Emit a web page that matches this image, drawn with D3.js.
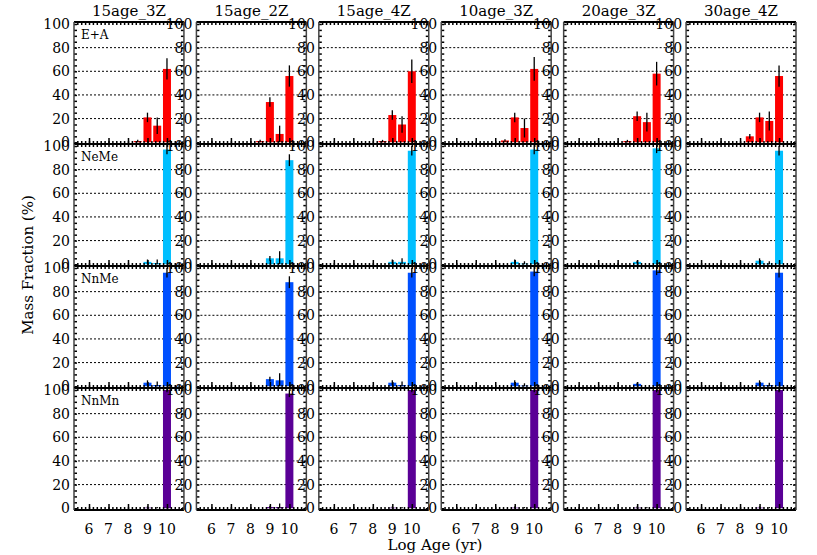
<!DOCTYPE html>
<html><head><meta charset="utf-8">
<script src="https://cdn.jsdelivr.net/npm/d3@7"></script>
<style>body{margin:0;background:#fff}text{font-family:"DejaVu Serif",serif;fill:#000}</style>
</head><body><svg id="chart" width="817" height="555"></svg>
<script>
const models = ["15age_3Z", "15age_2Z", "15age_4Z", "10age_3Z", "20age_3Z", "30age_4Z"];
const classes = ["E+A", "NeMe", "NnMe", "NnMn"];
const colors = ["#ff0000", "#00bfff", "#0050ff", "#5a0096"];
const ages = [6, 6.5, 7, 7.5, 8, 8.5, 9, 9.5, 10];
// values[class][model] -> fraction per age; errs same shape
const values = [
  [[0,0,0,0,0,1,21,14,62],[0,0,0,0,0,1,34,7,56],[0,0,0,0,0,1,23,15,60],[0,0,0,0,0,1.5,21,12,62],[0,0,0,0,0,1,22,17,58],[0,0,0,0,0,5,21,18,56]],
  [[0,0,0,0,0,0,2,1,97],[0,0,0,0,0,0,5,5,88],[0,0,0,0,0,0,2,2,96],[0,0,0,0,0,0,2,0.5,97],[0,0,0,0,0,0,2,0,98],[0,0,0,0,0,0,3,0.5,96]],
  [[0,0,0,0,0,0,3,1,96],[0,0,0,0,0,0,6,5,88],[0,0,0,0,0,0,3,1,96],[0,0,0,0,0,0,3,0.5,97],[0,0,0,0,0,0,2,0,98],[0,0,0,0,0,0,3,1,96]],
  [[0,0,0,0,0,0,0.5,0,100],[0,0,0,0,0,0,1,1,97],[0,0,0,0,0,0,0.5,0,100],[0,0,0,0,0,0,0.5,0,100],[0,0,0,0,0,0,0.5,0,100],[0,0,0,0,0,0,0.5,0,100]]
];
const errs = [
  [[0,0,0,0,0,1,4,7,9],[0,0,0,0,0,1,4,7,9],[0,0,0,0,0,1,4,7,10],[0,0,0,0,0,1,4,8,10],[0,0,0,0,0,1,4,8,10],[0,0,0,0,0,2,4,8,9]],
  [[0,0,0,0,0,0,2,3,4],[0,0,0,0,0,0,2,6,5],[0,0,0,0,0,0,2,3,4],[0,0,0,0,0,0,2,2,4],[0,0,0,0,0,0,1,0,4],[0,0,0,0,0,0,2,2,4]],
  [[0,0,0,0,0,0,2,3,4],[0,0,0,0,0,0,2,6,5],[0,0,0,0,0,0,2,3,4],[0,0,0,0,0,0,2,2,4],[0,0,0,0,0,0,1,0,4],[0,0,0,0,0,0,2,2,4]],
  [[0,0,0,0,0,0,1,1,2],[0,0,0,0,0,0,1,3,3],[0,0,0,0,0,0,1,1,2],[0,0,0,0,0,0,1,1,2],[0,0,0,0,0,0,1,1,2],[0,0,0,0,0,0,1,1,2]]
];
const xTicks = [6, 7, 8, 9, 10];
const yTicks = [0, 20, 40, 60, 80, 100];

const svg = d3.select("#chart");
const colX = d3.scaleBand().domain(models).range([74, 796]).paddingInner(0.102);
const rowY = d3.scaleBand().domain(classes).range([22, 510]);
const pw = colX.bandwidth(), ph = rowY.bandwidth();

models.forEach((m, mi) => {
    const x0 = colX(m);
    const x = d3.scaleLinear().domain([5.23, 10.87]).range([x0, x0 + pw]);
    svg.append("text").attr("x", x0 + pw/2).attr("y", 16).attr("text-anchor", "middle")
        .style("font-size", "15px").text(m);
    classes.forEach((c, ci) => {
        const y0 = rowY(c);
        const y = d3.scaleLinear().domain([-1.5, 100]).range([y0 + ph, y0 + 2]);
        const g = svg.append("g");
        g.selectAll(".grid").data([20, 40, 60, 80]).enter().append("line")
            .attr("x1", x0).attr("x2", x0 + pw).attr("y1", d => y(d)).attr("y2", d => y(d))
            .attr("stroke", "#000").attr("stroke-dasharray", "2,2").attr("stroke-width", 1);
        const data = ages.map((a, i) => ({a, v: values[ci][mi][i], e: errs[ci][mi][i]}));
        g.selectAll(".bar").data(data.filter(d => d.v > 0)).enter().append("rect")
            .attr("x", d => x(d.a) - 4).attr("width", 8)
            .attr("y", d => y(d.v)).attr("height", d => y(0) - y(d.v))
            .attr("fill", colors[ci]);
        g.selectAll(".err").data(data.filter(d => d.e > 0)).enter().append("line")
            .attr("x1", d => x(d.a)).attr("x2", d => x(d.a))
            .attr("y1", d => y(d.v + d.e)).attr("y2", d => y(Math.max(d.v - d.e, 0)))
            .attr("stroke", "#000").attr("stroke-width", 1.3);
        g.append("g").attr("transform", `translate(${x0},0)`)
            .call(d3.axisRight(y).tickValues(d3.range(0, 101, 5)).tickSize(3).tickFormat(""));
        g.append("g").attr("transform", `translate(${x0 + pw},0)`)
            .call(d3.axisLeft(y).tickValues(d3.range(0, 101, 5)).tickSize(3).tickFormat(""));
        g.selectAll(".ylab").data(yTicks).enter().append("text")
            .attr("x", x0 - 4).attr("y", d => y(d) + 5).attr("text-anchor", "end")
            .style("font-size", "14px").text(d => d);
        const xt = d3.range(5.4, 10.81, 0.2);
        g.append("g").attr("transform", `translate(0,${y0 + ph})`)
            .call(d3.axisTop(x).tickValues(xt).tickSize(3).tickFormat(""));
        g.append("g").attr("transform", `translate(0,${y0 + ph})`)
            .call(d3.axisTop(x).tickValues(xt.filter((d, i) => i % 5 === 3)).tickSize(6).tickFormat(""));
        g.append("g").attr("transform", `translate(0,${y0})`)
            .call(d3.axisBottom(x).tickValues(xt).tickSize(3).tickFormat(""));
        g.selectAll(".domain").remove();
        g.selectAll(".tick line").attr("stroke", "#000").attr("stroke-width", 1.5);
        g.append("line").attr("x1", x0).attr("x2", x0 + pw).attr("y1", y0 + ph).attr("y2", y0 + ph)
            .attr("stroke", "#000").attr("stroke-width", 1.8);
        g.append("line").attr("x1", x0).attr("x2", x0 + pw).attr("y1", y0).attr("y2", y0)
            .attr("stroke", "#000").attr("stroke-width", 1.8);
        g.append("line").attr("x1", x0).attr("x2", x0).attr("y1", y0).attr("y2", y0 + ph)
            .attr("stroke", "#444").attr("stroke-width", 1.5);
        g.append("line").attr("x1", x0 + pw).attr("x2", x0 + pw).attr("y1", y0).attr("y2", y0 + ph)
            .attr("stroke", "#444").attr("stroke-width", 1.5);
        if (mi === 0) {
            g.append("text").attr("x", x0 + 7).attr("y", y0 + 17).style("font-size", "12px").text(c);
        }
        if (ci === classes.length - 1) {
            g.selectAll(".xlab").data(xTicks).enter().append("text")
                .attr("x", d => x(d)).attr("y", y0 + ph + 24).attr("text-anchor", "middle")
                .style("font-size", "14px").text(d => d);
        }
    });
});
svg.append("text").attr("x", 435).attr("y", 550).attr("text-anchor", "middle")
    .style("font-size", "15px").text("Log Age (yr)");
svg.append("text").attr("transform", "translate(33,265) rotate(-90)").attr("text-anchor", "middle")
    .style("font-size", "15px").text("Mass Fraction (%)");
</script></body></html>
